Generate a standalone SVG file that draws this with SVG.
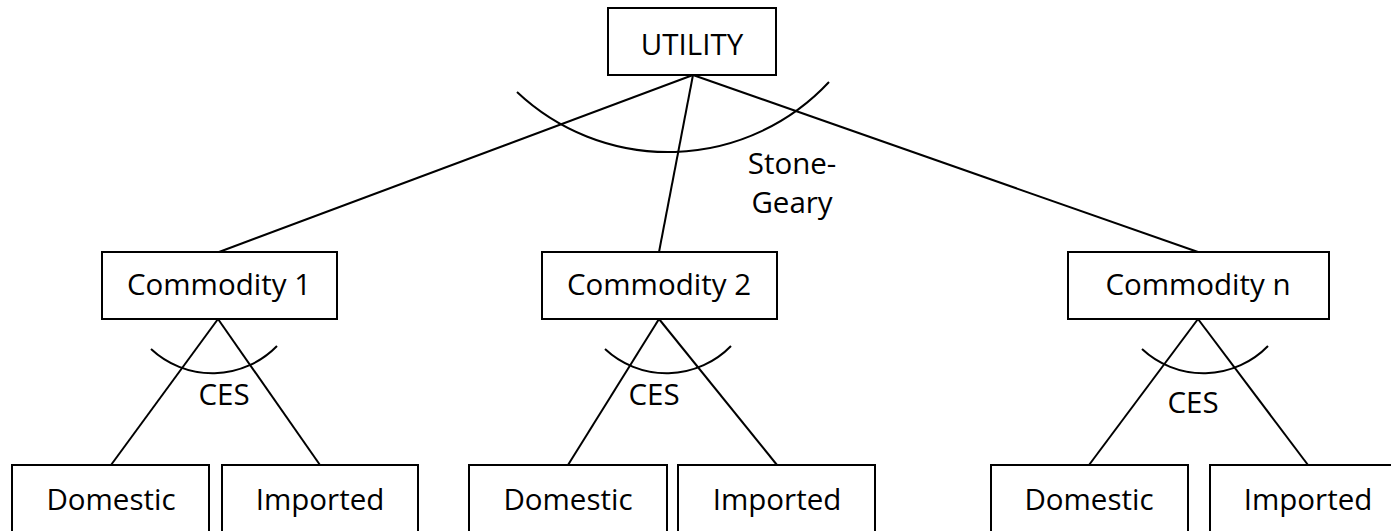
<svg xmlns="http://www.w3.org/2000/svg" width="1391" height="531" viewBox="0 0 1391 531">
  <style>
    .box { fill: #ffffff; stroke: #000000; stroke-width: 2; }
    .edge { fill: none; stroke: #000000; stroke-width: 2; }
    .lbl { font-family: "Open Sans", "Liberation Sans", sans-serif; font-size: 29.5px; fill: #000000; text-anchor: middle; }
  </style>
  <rect width="1391" height="531" fill="#ffffff"/>

  <!-- connectors: tree branches and elasticity arcs -->
  <g id="connectors">
    <line class="edge" x1="693" y1="75" x2="219" y2="252"/>
    <line class="edge" x1="693" y1="75" x2="659" y2="252"/>
    <line class="edge" x1="693" y1="75" x2="1198" y2="252"/>
    <path class="edge" d="M517,92 A220,220 0 0 0 829,82"/>

    <line class="edge" x1="218" y1="319" x2="111" y2="465"/>
    <line class="edge" x1="218" y1="319" x2="320" y2="465"/>
    <path class="edge" d="M151,349 A90,90 0 0 0 277,346"/>

    <line class="edge" x1="659" y1="319" x2="568" y2="465"/>
    <line class="edge" x1="659" y1="319" x2="777" y2="465"/>
    <path class="edge" d="M605,349 A90,90 0 0 0 731,346"/>

    <line class="edge" x1="1198" y1="319" x2="1089" y2="465"/>
    <line class="edge" x1="1198" y1="319" x2="1308" y2="465"/>
    <path class="edge" d="M1142,349 A90,90 0 0 0 1268,346"/>
  </g>

  <!-- function labels -->
  <g id="labels">
    <text class="lbl" x="792" y="174">Stone-</text>
    <text class="lbl" x="792" y="213">Geary</text>
    <text class="lbl" x="224" y="405">CES</text>
    <text class="lbl" x="654" y="405">CES</text>
    <text class="lbl" x="1193" y="413">CES</text>
  </g>

  <g id="utility">
    <rect class="box" x="608" y="8" width="168" height="67"/>
    <text class="lbl" x="692" y="55">UTILITY</text>
  </g>

  <g id="commodity-1">
    <rect class="box" x="102" y="252" width="235" height="67"/>
    <text class="lbl" x="219" y="295">Commodity 1</text>
  </g>
  <g id="commodity-2">
    <rect class="box" x="542" y="252" width="235" height="67"/>
    <text class="lbl" x="659" y="295">Commodity 2</text>
  </g>
  <g id="commodity-n">
    <rect class="box" x="1068" y="252" width="261" height="67"/>
    <text class="lbl" x="1198" y="295">Commodity n</text>
  </g>

  <g id="domestic-1">
    <rect class="box" x="12" y="465" width="197" height="90"/>
    <text class="lbl" x="111" y="510">Domestic</text>
  </g>
  <g id="imported-1">
    <rect class="box" x="222" y="465" width="196" height="90"/>
    <text class="lbl" x="320" y="510">Imported</text>
  </g>
  <g id="domestic-2">
    <rect class="box" x="469" y="465" width="198" height="90"/>
    <text class="lbl" x="568" y="510">Domestic</text>
  </g>
  <g id="imported-2">
    <rect class="box" x="678" y="465" width="197" height="90"/>
    <text class="lbl" x="777" y="510">Imported</text>
  </g>
  <g id="domestic-n">
    <rect class="box" x="991" y="465" width="197" height="90"/>
    <text class="lbl" x="1089" y="510">Domestic</text>
  </g>
  <g id="imported-n">
    <rect class="box" x="1210" y="465" width="197" height="90"/>
    <text class="lbl" x="1308" y="510">Imported</text>
  </g>
</svg>
